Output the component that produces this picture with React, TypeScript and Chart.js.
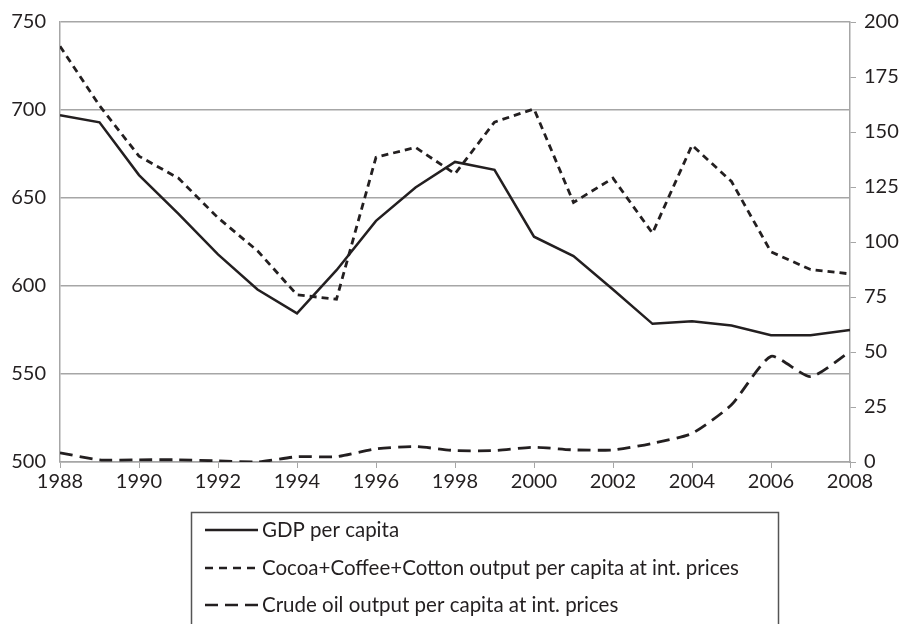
import React, { useEffect, useRef } from "react";
import { Chart, registerables } from "chart.js";

Chart.register(...registerables);

const years = [1988, 1989, 1990, 1991, 1992, 1993, 1994, 1995, 1996, 1997, 1998, 1999, 2000, 2001, 2002, 2003, 2004, 2005, 2006, 2007, 2008];
const gdpPerCapita = [697, 693, 663, 641, 618, 598, 584.5, 609, 637, 656, 670.5, 666, 628, 617, 598, 578.5, 580, 577.5, 572, 572, 575];
const cocoaCoffeeCotton = [189, 162, 139, 129, 111, 96, 76, 74, 138.5, 143, 131, 154.5, 160.5, 118, 129, 104, 144, 127.5, 95.5, 87.5, 85.5];
const crudeOil = [4.2, 1, 1, 1, 0.5, 0, 2.4, 2.4, 6, 7, 5.2, 5.2, 6.7, 5.5, 5.5, 8.5, 13, 26, 48, 38.8, 50.2];
const leftTicks = [500, 550, 600, 650, 700, 750];
const rightTicks = [0, 25, 50, 75, 100, 125, 150, 175, 200];
const legendLabels = [
  "GDP per capita",
  "Cocoa+Coffee+Cotton output per capita at int. prices",
  "Crude oil output per capita at int. prices",
];

const FONT = "Lato, 'Open Sans', sans-serif";
const INK = "#231f20";
const GRID = "#a6a6a6";
const SHIFT = 4; // canvas is drawn 4px above the page top

const legendPlugin = {
  id: "boxLegend",
  afterDraw(chart: any) {
    const ctx = chart.ctx;
    ctx.save();
    ctx.strokeStyle = "#555";
    ctx.lineWidth = 1.5;
    ctx.strokeRect(191.5, 512.5 + SHIFT, 587, 200);
    const rows = [530, 568, 605];
    const dashes = [[], [8, 6], [13, 7]];
    legendLabels.forEach((label, i) => {
      const y = rows[i] + SHIFT;
      ctx.beginPath();
      ctx.setLineDash(dashes[i]);
      ctx.lineWidth = 2.5;
      ctx.strokeStyle = INK;
      ctx.moveTo(205, y);
      ctx.lineTo(258, y);
      ctx.stroke();
      ctx.setLineDash([]);
      ctx.fillStyle = INK;
      ctx.font = `20.5px ${FONT}`;
      ctx.textBaseline = "middle";
      ctx.textAlign = "left";
      ctx.fillText(label, 262, y);
    });
    ctx.restore();
  },
};

export default function App() {
  const ref = useRef<HTMLCanvasElement>(null);
  useEffect(() => {
    if (!ref.current) return;
    const toPts = (arr: number[]) => arr.map((v, i) => ({ x: years[i], y: v }));
    const chart = new Chart(ref.current, {
      type: "line",
      data: {
        datasets: [
          {
            label: legendLabels[0],
            data: toPts(gdpPerCapita),
            yAxisID: "yL",
            borderColor: INK,
            borderWidth: 2.5,
            pointRadius: 0,
            tension: 0,
          },
          {
            label: legendLabels[1],
            data: toPts(cocoaCoffeeCotton),
            yAxisID: "yR",
            borderColor: INK,
            borderWidth: 2.8,
            borderDash: [7, 5],
            pointRadius: 0,
            tension: 0,
          },
          {
            label: legendLabels[2],
            data: toPts(crudeOil),
            yAxisID: "yR",
            borderColor: INK,
            borderWidth: 2.8,
            borderDash: [13, 7],
            pointRadius: 0,
            tension: 0.2,
          },
        ],
      },
      options: {
        animation: false,
        responsive: false,
        maintainAspectRatio: false,
        layout: { padding: { top: 18, bottom: 132, left: 0, right: 0 } },
        plugins: { legend: { display: false }, tooltip: { enabled: false } },
        scales: {
          x: {
            type: "linear",
            min: 1988,
            max: 2008,
            ticks: {
              stepSize: 2,
              color: INK,
              font: { size: 20, family: FONT },
              padding: 2,
              maxRotation: 0,
              callback: (v: any) => String(v),
            },
            grid: { drawOnChartArea: false, drawTicks: true, tickLength: 6, color: GRID },
            border: { color: GRID, width: 1.5 },
            afterFit: (s: any) => { s.height = 30; },
          },
          yL: {
            type: "linear",
            position: "left",
            min: 500,
            max: 750,
            afterBuildTicks: (s: any) => { s.ticks = leftTicks.map((v) => ({ value: v })); },
            ticks: { color: INK, font: { size: 20, family: FONT }, padding: 14 },
            grid: { color: GRID, lineWidth: 1.5, drawTicks: false },
            border: { color: GRID, width: 1.5 },
            afterFit: (s: any) => { s.width = 60; },
          },
          yR: {
            type: "linear",
            position: "right",
            min: 0,
            max: 200,
            afterBuildTicks: (s: any) => { s.ticks = rightTicks.map((v) => ({ value: v })); },
            ticks: { color: INK, font: { size: 20, family: FONT }, padding: 8 },
            grid: { drawOnChartArea: false, drawTicks: true, tickLength: 6, color: GRID },
            border: { color: GRID, width: 1.5 },
            afterFit: (s: any) => { s.width = 53; },
          },
        },
      },
      plugins: [legendPlugin],
    });
    return () => chart.destroy();
  }, []);
  return (
    <div style={{ position: "absolute", left: 0, top: 0, width: 903, height: 624, overflow: "hidden", background: "#fff" }}>
      <canvas
        ref={ref}
        width={903}
        height={624 + SHIFT}
        style={{ display: "block", position: "absolute", left: 0, top: -SHIFT }}
      />
    </div>
  );
}
